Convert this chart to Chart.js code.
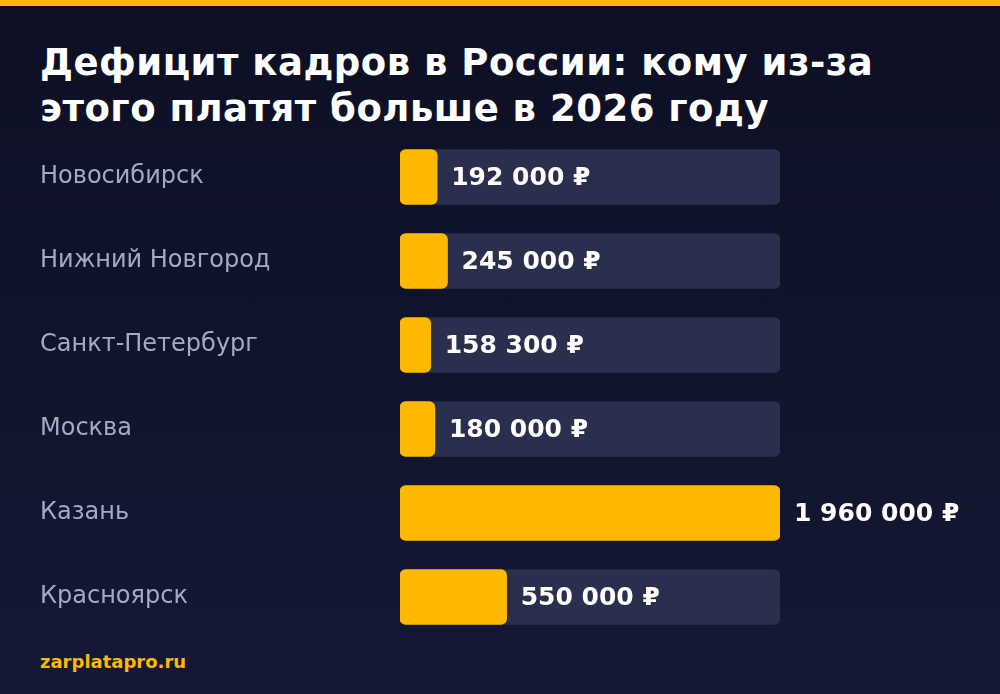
<!DOCTYPE html>
<html><head><meta charset="utf-8">
<script src="https://cdn.jsdelivr.net/npm/chart.js@4"></script>
<style>
html,body{margin:0;padding:0;width:1000px;height:694px;overflow:hidden;}
body{background:linear-gradient(180deg,#0d1024 0%,#141834 100%);font-family:"DejaVu Sans",sans-serif;position:relative;}
#topbar{position:absolute;left:0;top:0;width:1000px;height:6px;background:#ffb800;}
#title{position:absolute;left:40px;top:40px;color:#fff;font-weight:bold;font-size:37px;line-height:46px;letter-spacing:0.5px;}
#foot{position:absolute;left:40px;top:651px;color:#ffb800;font-weight:bold;font-size:18px;}
canvas{position:absolute;left:0;top:0;}
</style></head><body>
<div id="topbar"></div>
<div id="title">Дефицит кадров в России: кому из-за<br>этого платят больше в 2026 году</div>
<div id="foot">zarplatapro.ru</div>
<canvas id="c" width="1000" height="694"></canvas>
<script>
const cities = ["Новосибирск","Нижний Новгород","Санкт-Петербург","Москва","Казань","Красноярск"];
const salaries = [192000,245000,158300,180000,1960000,550000];
const valueLabels = ["192 000 ₽","245 000 ₽","158 300 ₽","180 000 ₽","1 960 000 ₽","550 000 ₽"];
const maxVal = Math.max(...salaries);

const labelPlugin = {
  id:'vals',
  afterDatasetsDraw(chart){
    const ctx = chart.ctx, meta = chart.getDatasetMeta(1);
    ctx.save();
    ctx.font = 'bold 25px "DejaVu Sans"';
    ctx.fillStyle = '#ffffff';
    ctx.textBaseline = 'middle';
    meta.data.forEach((b,i)=>{ ctx.fillText(valueLabels[i], b.x+14, b.y+1); });
    ctx.restore();
  }
};
new Chart(document.getElementById('c'),{
  type:'bar',
  data:{labels:cities,datasets:[
    {data:salaries.map(()=>maxVal),backgroundColor:'#2a2f4e',borderRadius:6,borderSkipped:false,barThickness:55,grouped:false,order:2},
    {data:salaries,backgroundColor:'#ffb800',borderRadius:6,borderSkipped:false,barThickness:55,grouped:false,order:1}
  ]},
  options:{
    indexAxis:'y',responsive:false,animation:false,
    layout:{padding:{left:40,right:220,top:135,bottom:55}},
    plugins:{legend:{display:false},tooltip:{enabled:false}},
    scales:{
      x:{display:false,min:0,max:maxVal},
      y:{grid:{display:false},border:{display:false},
         afterFit(s){s.width=360;},
         ticks:{crossAlign:'far',color:'#a6a9c6',font:{family:'DejaVu Sans',size:24},padding:0}}
    }
  },
  plugins:[labelPlugin]
});
</script>
</body></html>
